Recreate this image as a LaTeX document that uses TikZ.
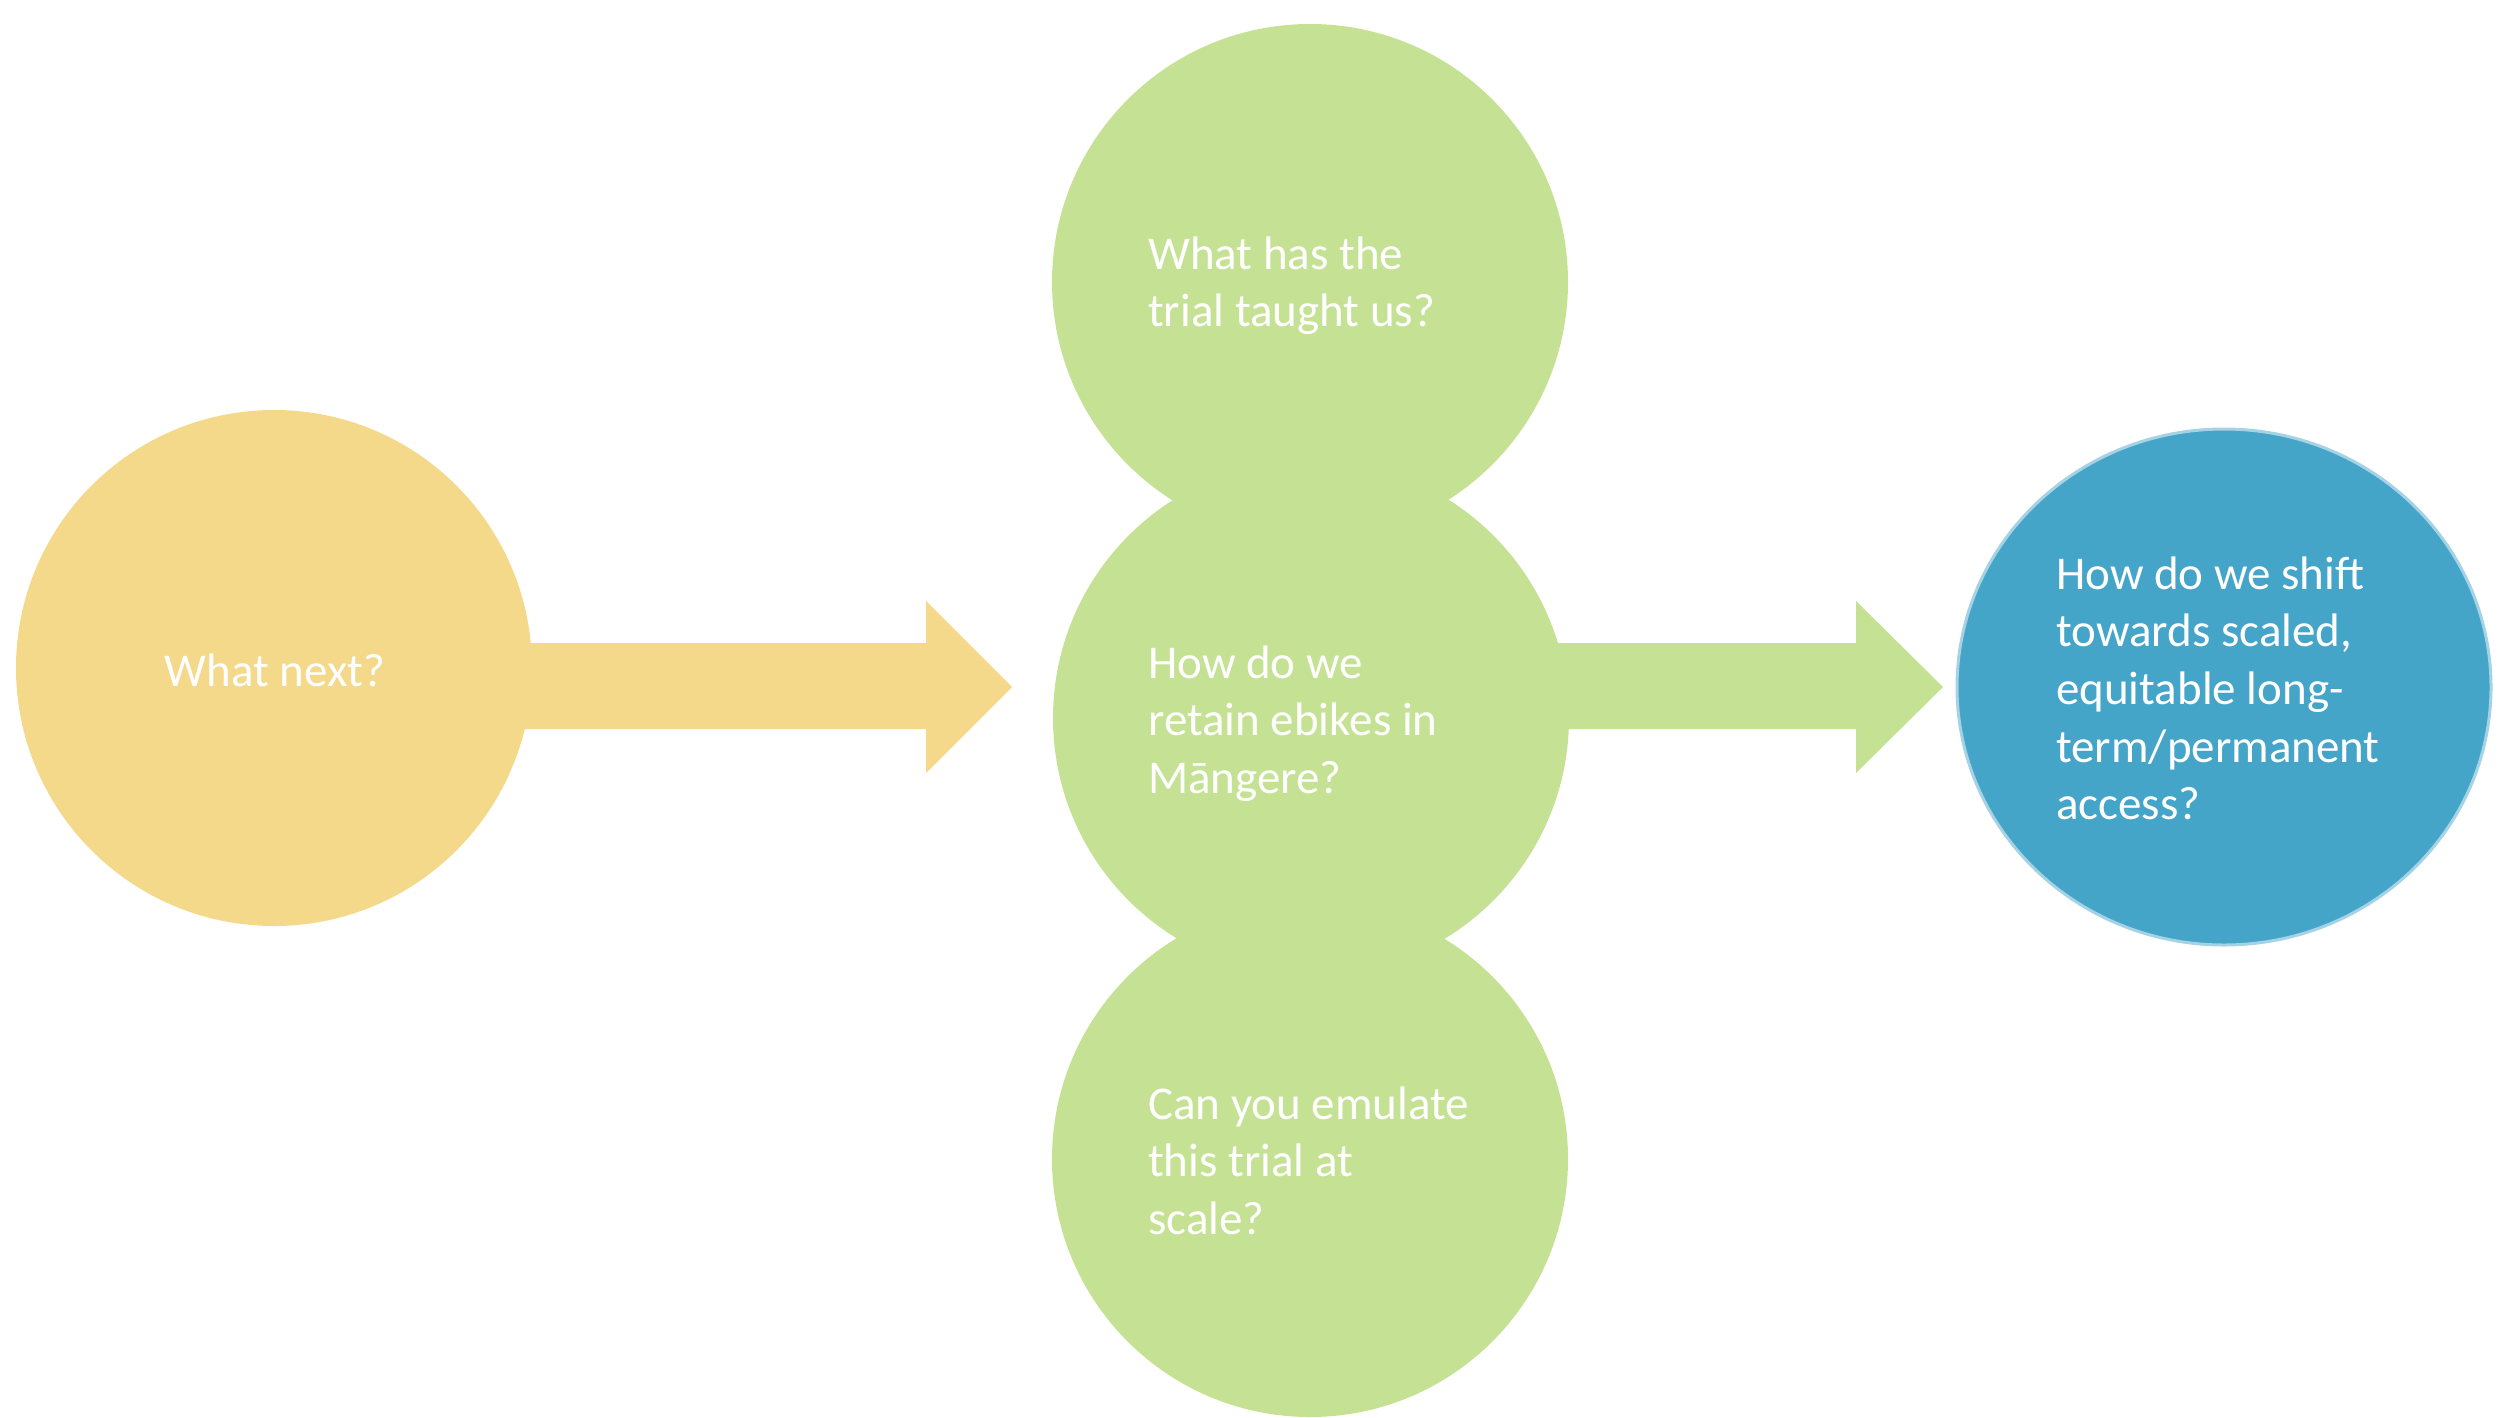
\documentclass[tikz,border=0pt]{standalone}
\usepackage{fontspec}
\setmainfont{Carlito}
\usetikzlibrary{shapes.geometric}
\definecolor{yel}{RGB}{245,217,139}
\definecolor{grn}{RGB}{197,226,148}
\definecolor{blu}{RGB}{69,165,200}
\definecolor{bluedge}{RGB}{165,210,228}
\begin{document}
\begin{tikzpicture}[x=1pt,y=-1pt,
  bubble/.style={circle,inner sep=0pt,minimum size=516pt},
  qtext/.style={inner sep=0pt,text=white,anchor=base west,font=\fontsize{47}{57.7}\selectfont}]
\useasboundingbox (0,0) rectangle (2503,1417);
% block arrows
\fill[yel] (400,643) -- (926,643) -- (926,601) -- (1012,687) -- (926,773) -- (926,729) -- (400,729) -- cycle;
\fill[grn] (1400,643) -- (1856,643) -- (1856,601) -- (1943,687) -- (1856,773) -- (1856,729) -- (1400,729) -- cycle;
% circles
\node[bubble,fill=yel] (yc) at (274,668) {};
\node[bubble,fill=grn] (gt) at (1310,282) {};
\node[bubble,fill=grn] (gm) at (1311,718) {};
\node[bubble,fill=grn] (gb) at (1310,1159) {};
\node[ellipse,inner sep=0pt,minimum width=534pt,minimum height=516pt,fill=blu,draw=bluedge,line width=3pt] (bc) at (2224,687) {};
% texts
\node[qtext,anchor=base] (tyc) at (275,686) {What next?};
\node[qtext] (tgt) at (1148,269) {\begin{tabular}[t]{@{}l@{}}What has the\\trial taught us?\end{tabular}};
\node[qtext] (tgm) at (1148,678) {\begin{tabular}[t]{@{}l@{}}How do we\\retain ebikes in\\Māngere?\end{tabular}};
\node[qtext] (tgb) at (1148,1119) {\begin{tabular}[t]{@{}l@{}}Can you emulate\\this trial at\\scale?\end{tabular}};
\node[qtext] (tbc) at (2056,589) {\begin{tabular}[t]{@{}l@{}}How do we shift\\towards scaled,\\equitable long-\\term/permanent\\access?\end{tabular}};
\end{tikzpicture}
\end{document}
